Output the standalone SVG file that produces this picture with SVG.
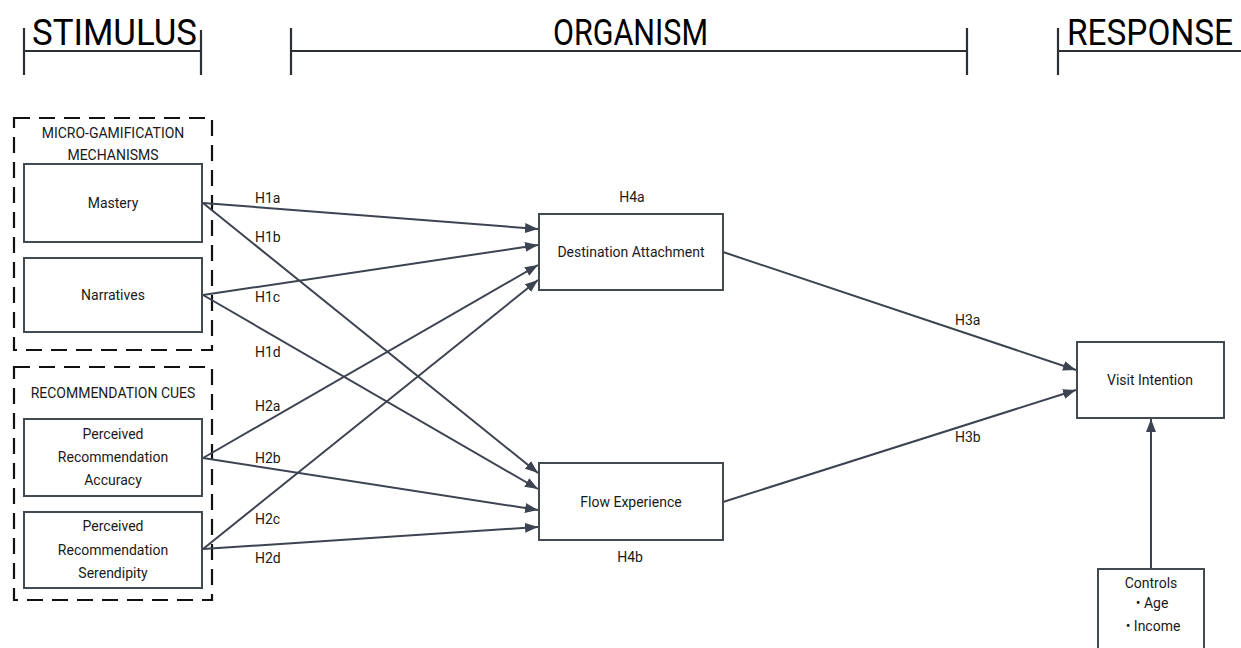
<svg xmlns="http://www.w3.org/2000/svg" width="1241" height="648" viewBox="0 0 1241 648">
<style>
.hdr{font-family:Roboto,"Liberation Sans",sans-serif;font-size:37px;fill:#000}
.bar{stroke:#2b2f36;stroke-width:2.2;fill:none}
.t{font-family:Roboto,"Liberation Sans",sans-serif;font-size:14px;fill:#1a1a1a}
.box{fill:#fff;stroke:#444a52;stroke-width:2}
.grp{fill:none;stroke:#111;stroke-width:2.2;stroke-dasharray:16 9}
.c{stroke:#3d4350;stroke-width:2;fill:none;marker-end:url(#ah)}
</style>
<defs>
<marker id="ah" viewBox="0 0 13 10" refX="13" refY="5" markerWidth="13" markerHeight="10" markerUnits="userSpaceOnUse" orient="auto">
<path d="M0,0 L13,5 L0,10 z" fill="#3d4350"/>
</marker>
</defs>
<rect width="1241" height="648" fill="#fff"/>
<g id="headers">
<text class="hdr" x="32" y="45" textLength="165" lengthAdjust="spacingAndGlyphs">STIMULUS</text>
<path class="bar" d="M24,28 V75 M201,30 V75 M24,51 H201"/>
<text class="hdr" x="553" y="45" textLength="155" lengthAdjust="spacingAndGlyphs">ORGANISM</text>
<path class="bar" d="M291,28 V75 M967,28 V75 M291,51 H967"/>
<text class="hdr" x="1067" y="45" textLength="166" lengthAdjust="spacingAndGlyphs">RESPONSE</text>
<path class="bar" d="M1058,28 V75 M1058,51 H1241"/>
</g>
<g id="group-gamification">
<rect class="grp" x="14" y="118" width="198" height="232"/>
<text class="t" x="113" y="138" text-anchor="middle">MICRO-GAMIFICATION</text>
<text class="t" x="113" y="160" text-anchor="middle">MECHANISMS</text>
</g>
<g id="group-recommendation">
<rect class="grp" x="14" y="367" width="198" height="233"/>
<text class="t" x="113" y="398" text-anchor="middle">RECOMMENDATION CUES</text>
</g>
<g id="connectors">
<path class="c" d="M203,203 L538,229"/>
<path class="c" d="M203,203 L538,473"/>
<path class="c" d="M203,295 L538,245"/>
<path class="c" d="M203,295 L538,489"/>
<path class="c" d="M203,458 L538,265"/>
<path class="c" d="M203,458 L538,510"/>
<path class="c" d="M203,549 L538,280"/>
<path class="c" d="M203,549 L538,527"/>
<path class="c" d="M723,252 L1076,370"/>
<path class="c" d="M723,502 L1076,390"/>
<path class="c" d="M1151,569 L1151,419"/>
<text class="t" x="255" y="203">H1a</text>
<text class="t" x="255" y="242">H1b</text>
<text class="t" x="255" y="302">H1c</text>
<text class="t" x="255" y="357">H1d</text>
<text class="t" x="255" y="411">H2a</text>
<text class="t" x="255" y="463">H2b</text>
<text class="t" x="255" y="524">H2c</text>
<text class="t" x="255" y="563">H2d</text>
<text class="t" x="955" y="325">H3a</text>
<text class="t" x="955" y="442">H3b</text>
</g>
<g id="mastery">
<rect class="box" x="24" y="164" width="178" height="78"/>
<text class="t" x="113" y="208" text-anchor="middle">Mastery</text>
</g>
<g id="narratives">
<rect class="box" x="24" y="258" width="178" height="74"/>
<text class="t" x="113" y="300" text-anchor="middle">Narratives</text>
</g>
<g id="accuracy">
<rect class="box" x="24" y="419" width="178" height="77"/>
<text class="t" x="113" y="439" text-anchor="middle">Perceived</text>
<text class="t" x="113" y="462" text-anchor="middle">Recommendation</text>
<text class="t" x="113" y="485" text-anchor="middle">Accuracy</text>
</g>
<g id="serendipity">
<rect class="box" x="24" y="512" width="178" height="76"/>
<text class="t" x="113" y="531" text-anchor="middle">Perceived</text>
<text class="t" x="113" y="555" text-anchor="middle">Recommendation</text>
<text class="t" x="113" y="578" text-anchor="middle">Serendipity</text>
</g>
<g id="destination-attachment">
<rect class="box" x="539" y="214" width="184" height="76"/>
<text class="t" x="631" y="257" text-anchor="middle">Destination Attachment</text>
<text class="t" x="632" y="202" text-anchor="middle">H4a</text>
</g>
<g id="flow-experience">
<rect class="box" x="539" y="463" width="184" height="77"/>
<text class="t" x="631" y="507" text-anchor="middle">Flow Experience</text>
<text class="t" x="630" y="562" text-anchor="middle">H4b</text>
</g>
<g id="visit-intention">
<rect class="box" x="1077" y="342" width="147" height="76"/>
<text class="t" x="1150" y="385" text-anchor="middle">Visit Intention</text>
</g>
<g id="controls">
<rect class="box" x="1098" y="569" width="106" height="90"/>
<text class="t" x="1151" y="588" text-anchor="middle">Controls</text>
<text class="t" x="1152" y="608" text-anchor="middle">• Age</text>
<text class="t" x="1153" y="631" text-anchor="middle">• Income</text>
</g>
</svg>
